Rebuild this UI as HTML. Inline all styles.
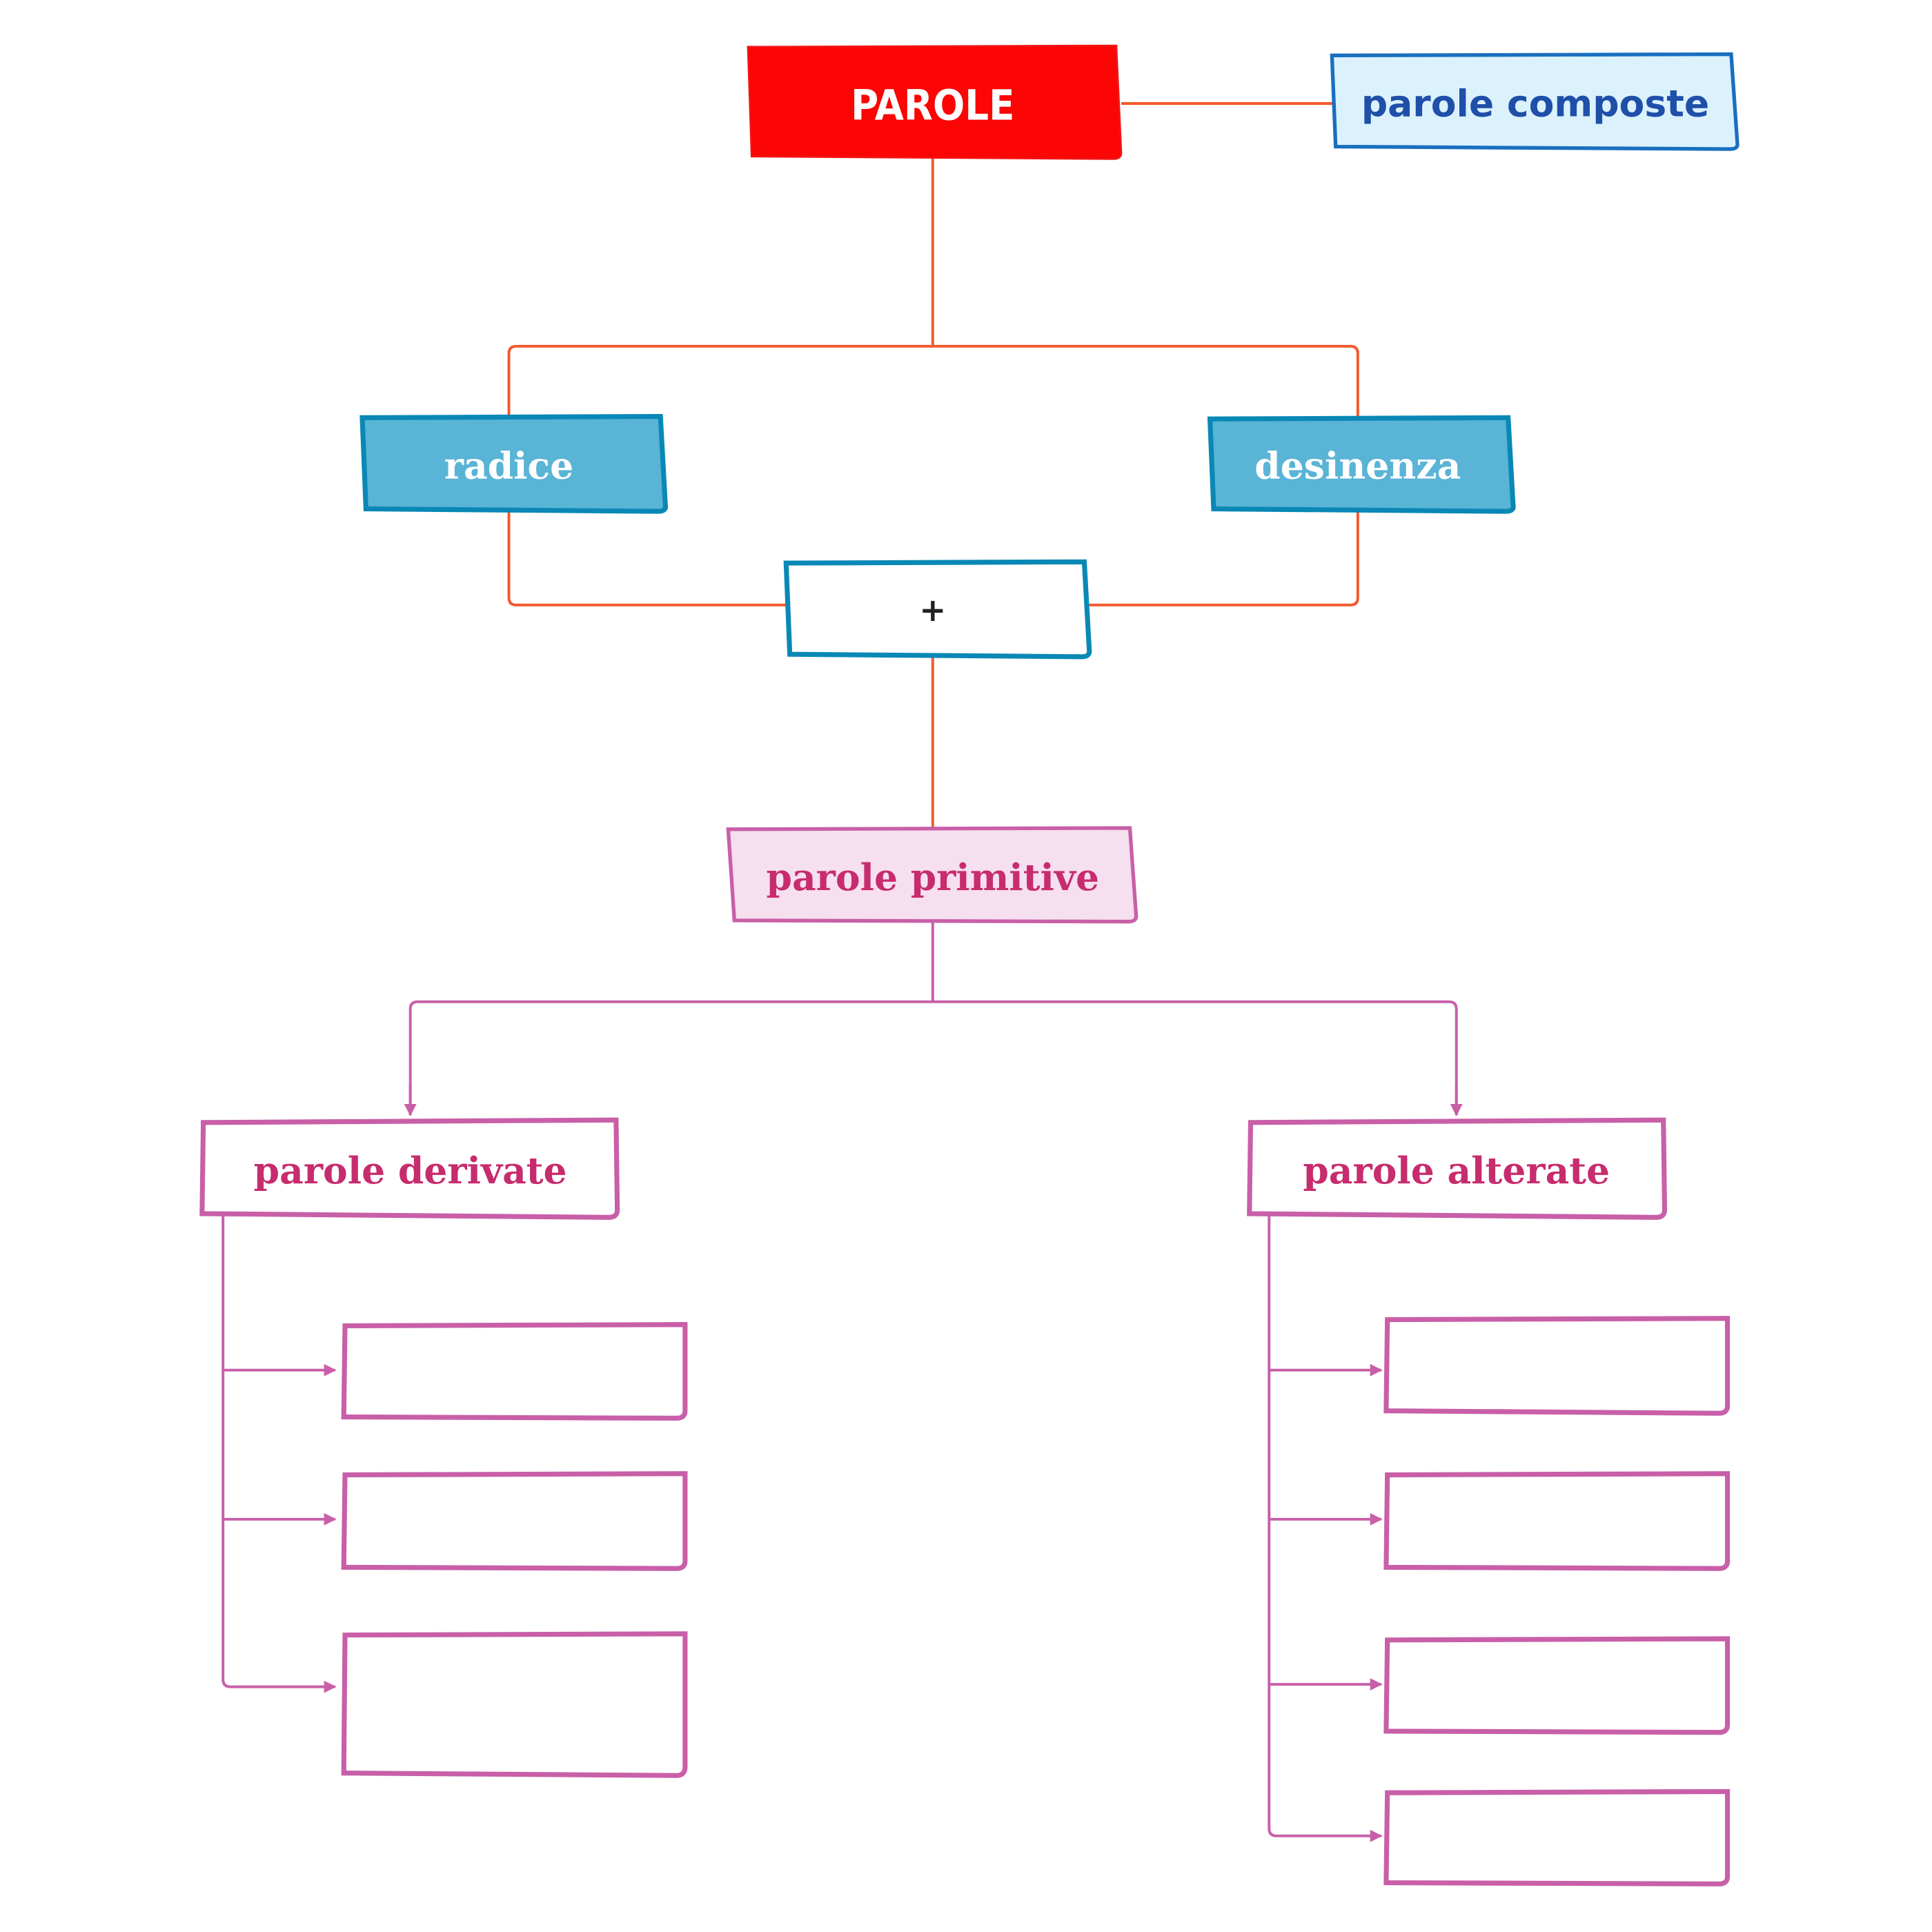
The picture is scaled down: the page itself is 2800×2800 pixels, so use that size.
<!DOCTYPE html>
<html><head><meta charset="utf-8"><style>
html,body{margin:0;padding:0;background:#fff;}
svg{display:block;}
text{font-weight:bold;text-anchor:middle;dominant-baseline:central;}
</style></head><body>
<svg width="2800" height="2800" viewBox="0 0 1568 1568" xmlns="http://www.w3.org/2000/svg">
<defs>
<marker id="ar" markerWidth="10" markerHeight="10" refX="9" refY="5" orient="auto" markerUnits="userSpaceOnUse">
<path d="M0,0 L10,5 L0,10 z" fill="#c85fa8"/></marker>
</defs>
<g fill="none" stroke="#f4592b" stroke-width="2.2">
<line x1="910" y1="84" x2="1082" y2="84"/>
<line x1="757" y1="128" x2="757" y2="281"/>
<path d="M413,338 V287 Q413,281 419,281 H1096 Q1102,281 1102,287 V338"/>
<path d="M413,414 V485 Q413,491 419,491 H638"/>
<path d="M1102,414 V485 Q1102,491 1096,491 H884"/>
<line x1="757" y1="532" x2="757" y2="672"/>
</g>
<g fill="none" stroke="#c85fa8" stroke-width="2.2">
<line x1="757" y1="747" x2="757" y2="813"/>
<path d="M333,905 V819 Q333,813 339,813 H1176 Q1182,813 1182,819 V905"/>
<line x1="333" y1="880" x2="333" y2="905" marker-end="url(#ar)"/>
<line x1="1182" y1="880" x2="1182" y2="905" marker-end="url(#ar)"/>
<path d="M181,986 V1363 Q181,1369 187,1369 H272" marker-end="url(#ar)"/>
<line x1="181" y1="1112" x2="272" y2="1112" marker-end="url(#ar)"/>
<line x1="181" y1="1233" x2="272" y2="1233" marker-end="url(#ar)"/>
<path d="M1030,986 V1484 Q1030,1490 1036,1490 H1121" marker-end="url(#ar)"/>
<line x1="1030" y1="1112" x2="1121" y2="1112" marker-end="url(#ar)"/>
<line x1="1030" y1="1233" x2="1121" y2="1233" marker-end="url(#ar)"/>
<line x1="1030" y1="1367" x2="1121" y2="1367" marker-end="url(#ar)"/>
</g>
<path d="M607,38 L906,37 L910,124 Q910,129 904,129 L610,127 Z" fill="#fb0505" stroke="#f21414" stroke-width="1.5"/>
<text x="757" y="86" fill="#fff" font-family="DejaVu Sans, Liberation Sans, sans-serif" font-size="34" style="font-stretch:condensed">PAROLE</text>
<path d="M1081,45 L1405,44 L1410,116 Q1411,121 1404,121 L1084,119 Z" fill="#dbf2fd" stroke="#1a6fbf" stroke-width="3"/>
<text x="1246" y="84" fill="#1f4fa8" font-family="DejaVu Sans, Liberation Sans, sans-serif" font-size="30">parole composte</text>
<path d="M294,339 L536,338 L540,410 Q541,415 534,415 L297,413 Z" fill="#59b4d6" stroke="#0a88b5" stroke-width="4"/>
<text x="413" y="378" fill="#fff" font-family="DejaVu Serif, Liberation Serif, serif" font-size="30">radice</text>
<path d="M982,340 L1224,339 L1228,410 Q1229,415 1222,415 L985,413 Z" fill="#59b4d6" stroke="#0a88b5" stroke-width="4"/>
<text x="1102" y="378" fill="#fff" font-family="DejaVu Serif, Liberation Serif, serif" font-size="30">desinenza</text>
<path d="M638,457 L880,456 L884,527 Q885,533 878,533 L641,531 Z" fill="#fff" stroke="#0a88b5" stroke-width="4"/>
<text x="757" y="495" fill="#222" font-family="DejaVu Sans, sans-serif" font-size="26">+</text>
<path d="M591,673 L917,672 L922,742 Q923,748 916,748 L596,747 Z" fill="#f6dfee" stroke="#c85fa8" stroke-width="3"/>
<text x="757" y="712" fill="#c72c6e" font-family="DejaVu Serif, Liberation Serif, serif" font-size="30">parole primitive</text>
<g fill="#fff" stroke="#c85fa8" stroke-width="4">
<path d="M165,911 L500,909 L501,982 Q501,988 494,988 L164,985 Z"/>
<path d="M1015,911 L1350,909 L1351,982 Q1351,988 1344,988 L1014,985 Z"/>
<path d="M280,1076 L556,1075 L556,1145 Q556,1151 549,1151 L279,1150 Z"/>
<path d="M280,1197 L556,1196 L556,1267 Q556,1273 549,1273 L279,1272 Z"/>
<path d="M280,1327 L556,1326 L556,1434 Q556,1441 549,1441 L279,1439 Z"/>
<path d="M1126,1071 L1402,1070 L1402,1141 Q1402,1147 1395,1147 L1125,1145 Z"/>
<path d="M1126,1197 L1402,1196 L1402,1267 Q1402,1273 1395,1273 L1125,1272 Z"/>
<path d="M1126,1331 L1402,1330 L1402,1400 Q1402,1406 1395,1406 L1125,1405 Z"/>
<path d="M1126,1455 L1402,1454 L1402,1523 Q1402,1529 1395,1529 L1125,1528 Z"/>
</g>
<text x="333" y="950" fill="#c72c6e" font-family="DejaVu Serif, Liberation Serif, serif" font-size="30">parole derivate</text>
<text x="1182" y="950" fill="#c72c6e" font-family="DejaVu Serif, Liberation Serif, serif" font-size="30">parole alterate</text>
</svg>
</body></html>
